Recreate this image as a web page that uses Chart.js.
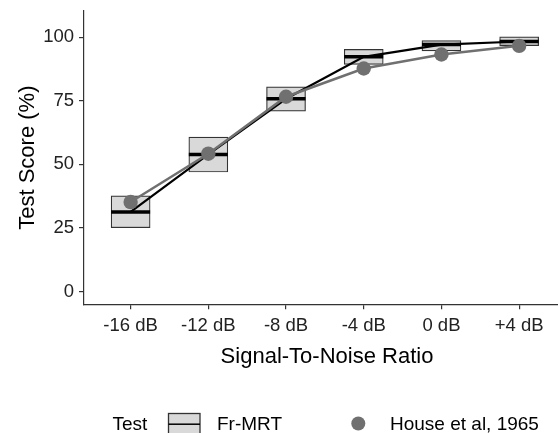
<!DOCTYPE html>
<html>
<head>
<meta charset="utf-8">
<script src="https://cdn.jsdelivr.net/npm/chart.js@4.4.1/dist/chart.umd.min.js"></script>
<style>
  html, body { margin: 0; padding: 0; background: #ffffff; }
  #wrap { width: 558px; height: 433px; position: relative; }
</style>
</head>
<body>
<div id="wrap"><canvas id="c" width="558" height="433"></canvas></div>
<script>
// ---- data ----
const categories = ['-16 dB', '-12 dB', '-8 dB', '-4 dB', '0 dB', '+4 dB'];
const frMrtLow    = [25.1, 47.0, 70.9, 89.3, 94.6, 96.7];
const frMrtHigh   = [37.6, 60.7, 80.5, 95.2, 98.7, 100.1];
const frMrtMedian = [31.3, 53.9, 75.8, 92.3, 97.1, 98.3];
const house1965   = [35.2, 54.2, 76.6, 87.7, 93.2, 96.6];
const yTickValues = [0, 25, 50, 75, 100];

const xTitle = 'Signal-To-Noise Ratio';
const yTitle = 'Test Score (%)';
const legendTitle = 'Test';
const seriesNames = ['Fr-MRT', 'House et al, 1965'];

const FONT = "'Liberation Sans', Arial, Helvetica, sans-serif";
const BOX_FILL = '#d9d9d9';
const EDGE = '#333333';
const GREY = '#707070';

const overlay = {
  id: 'overlay',
  afterDraw(chart) {
    const ctx = chart.ctx;
    const area = chart.chartArea;
    ctx.save();
    ctx.fillStyle = '#000';
    // x title
    ctx.font = '22px ' + FONT;
    ctx.textAlign = 'center';
    ctx.textBaseline = 'alphabetic';
    ctx.fillText(xTitle, 327, 363);
    // y title
    ctx.save();
    ctx.translate(34, (area.top + area.bottom) / 2);
    ctx.rotate(-Math.PI / 2);
    ctx.fillText(yTitle, 0, 0);
    ctx.restore();
    // legend
    ctx.font = '19px ' + FONT;
    ctx.textAlign = 'left';
    ctx.fillText(legendTitle, 112.5, 430);
    // box key
    ctx.fillStyle = BOX_FILL;
    ctx.fillRect(168.5, 413.5, 31.5, 22);
    ctx.strokeStyle = EDGE;
    ctx.lineWidth = 1.3;
    ctx.strokeRect(168.5, 413.5, 31.5, 22);
    ctx.strokeStyle = '#000';
    ctx.lineWidth = 1.5;
    ctx.beginPath();
    ctx.moveTo(168.5, 424.2);
    ctx.lineTo(200, 424.2);
    ctx.stroke();
    ctx.fillStyle = '#000';
    ctx.fillText(seriesNames[0], 217, 430);
    // point key
    ctx.fillStyle = GREY;
    ctx.beginPath();
    ctx.arc(358.3, 423.5, 7, 0, Math.PI * 2);
    ctx.fill();
    ctx.fillStyle = '#000';
    ctx.fillText(seriesNames[1], 390, 430);
    ctx.restore();
  }
};

new Chart(document.getElementById('c'), {
  type: 'bar',
  data: {
    datasets: [
      {
        type: 'bar',
        label: seriesNames[0],
        data: categories.map((c, i) => ({ x: i, y: [frMrtLow[i], frMrtHigh[i]] })),
        backgroundColor: BOX_FILL,
        borderColor: EDGE,
        borderWidth: 1.2,
        borderSkipped: false,
        barThickness: 39,
        order: 3
      },
      {
        type: 'line',
        label: seriesNames[0] + ' median',
        data: categories.map((c, i) => ({ x: i, y: frMrtMedian[i] })),
        borderColor: '#000',
        borderWidth: 2.2,
        pointStyle: 'line',
        pointRadius: 19.5,
        pointBorderWidth: 3.5,
        pointBorderColor: '#000',
        tension: 0,
        clip: false,
        order: 2
      },
      {
        type: 'line',
        label: seriesNames[1],
        data: categories.map((c, i) => ({ x: i, y: house1965[i] })),
        borderColor: GREY,
        borderWidth: 2.5,
        pointStyle: 'circle',
        pointRadius: 7.2,
        pointBackgroundColor: GREY,
        pointBorderColor: GREY,
        pointBorderWidth: 0,
        tension: 0,
        clip: false,
        order: 1
      }
    ]
  },
  options: {
    responsive: false,
    animation: false,
    events: [],
    layout: { autoPadding: false, padding: { top: 11, left: 0, right: 0, bottom: 0 } },
    plugins: { legend: { display: false }, tooltip: { enabled: false }, title: { display: false } },
    scales: {
      x: {
        type: 'linear',
        min: -0.6,
        max: 5.5,
        offset: false,
        afterBuildTicks(scale) { scale.ticks = categories.map((c, i) => ({ value: i })); },
        afterFit(scale) { scale.height = 128.7; scale.paddingLeft = 0; scale.paddingRight = 0; },
        grid: { display: true, offset: false, drawOnChartArea: false, drawTicks: true, tickLength: 5, color: EDGE, lineWidth: 1.2 },
        border: { display: true, color: EDGE, width: 1.2 },
        ticks: {
          autoSkip: false,
          maxRotation: 0,
          padding: 6,
          color: '#222',
          font: { family: FONT, size: 18.5 },
          callback: (v) => categories[v]
        }
      },
      y: {
        type: 'linear',
        min: -5,
        max: 110.3,
        afterBuildTicks(scale) { scale.ticks = yTickValues.map(v => ({ value: v })); },
        afterFit(scale) { scale.width = 84; scale.paddingTop = 0; scale.paddingBottom = 0; },
        grid: { display: true, offset: false, drawOnChartArea: false, drawTicks: true, tickLength: 5, color: EDGE, lineWidth: 1.2 },
        border: { display: true, color: EDGE, width: 1.2 },
        ticks: {
          padding: 5,
          color: '#222',
          font: { family: FONT, size: 18.5 }
        }
      }
    }
  },
  plugins: [overlay]
});
</script>
</body>
</html>
